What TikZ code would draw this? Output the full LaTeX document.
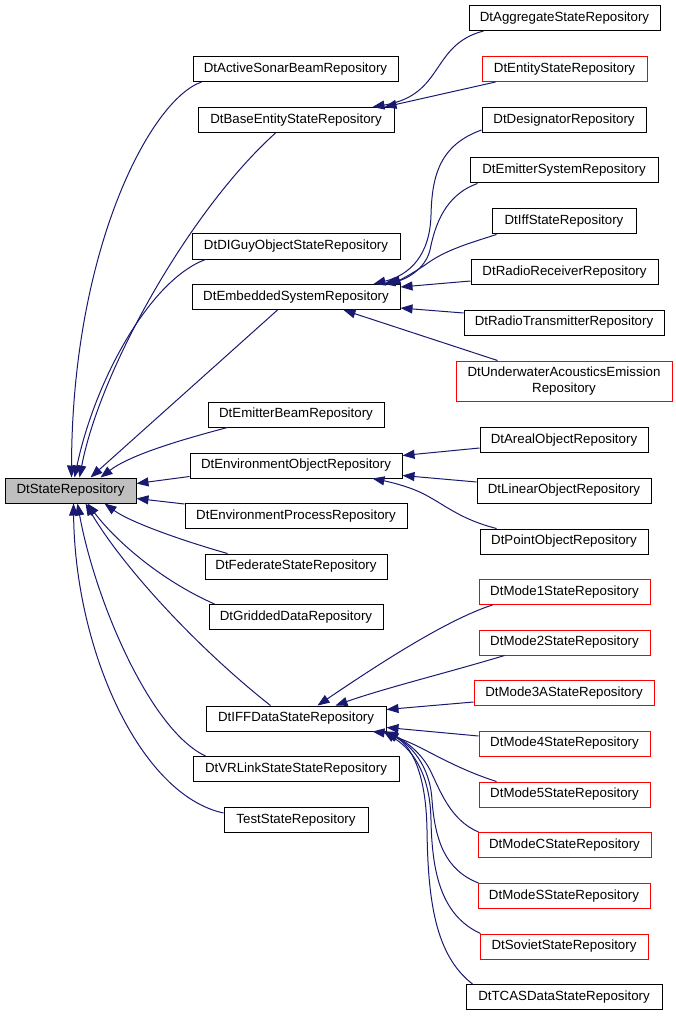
\documentclass[tikz,border=0pt]{standalone}
\usepackage{fontspec}
\setmainfont{Liberation Sans}
\usetikzlibrary{arrows.meta,calc}
\definecolor{edgeblue}{RGB}{25,25,112}
\definecolor{boxgray}{RGB}{191,191,191}
\tikzset{
  box/.style={draw=black, fill=white, line width=1pt, minimum height=25pt, inner sep=0pt,
              font=\fontsize{13.3}{15.5}\selectfont, align=center},
  redbox/.style={box, draw=red},
  rootbox/.style={box, fill=boxgray},
  edge/.style={draw=edgeblue, line width=1pt, -{Triangle[length=12pt,width=9pt]}}
}
\begin{document}
\begin{tikzpicture}[x=1pt,y=-1pt]
\useasboundingbox (0,0) rectangle (675,1016);
% root
\node[rootbox, minimum width=131] (sr) at (70.5,490.5) {DtStateRepository};
% middle column
\node[box, minimum width=205] (sonar)   at (295.5,69)  {DtActiveSonarBeamRepository};
\node[box, minimum width=196] (base)    at (296,120)   {DtBaseEntityStateRepository};
\node[box, minimum width=208] (diguy)   at (296,246.5) {DtDIGuyObjectStateRepository};
\node[box, minimum width=208] (embed)   at (296,297)   {DtEmbeddedSystemRepository};
\node[box, minimum width=176] (ebeam)   at (296,414.5) {DtEmitterBeamRepository};
\node[box, minimum width=212] (envobj)  at (296,465.5) {DtEnvironmentObjectRepository};
\node[box, minimum width=222] (envproc) at (296,516)   {DtEnvironmentProcessRepository};
\node[box, minimum width=182] (fed)     at (296,566.5) {DtFederateStateRepository};
\node[box, minimum width=174] (grid)    at (296,617)   {DtGriddedDataRepository};
\node[box, minimum width=180] (iff)     at (296,718.5) {DtIFFDataStateRepository};
\node[box, minimum width=206] (vrl)     at (296,769)   {DtVRLinkStateStateRepository};
\node[box, minimum width=144] (test)    at (296,820)   {TestStateRepository};
% right column
\node[box,    minimum width=191] (agg)    at (564.5,18)  {DtAggregateStateRepository};
\node[redbox, minimum width=165] (ent)    at (564.5,69)  {DtEntityStateRepository};
\node[box,    minimum width=164] (desig)  at (564,120)   {DtDesignatorRepository};
\node[box,    minimum width=188] (emsys)  at (564,170.5) {DtEmitterSystemRepository};
\node[box,    minimum width=144] (iffst)  at (564,221.5) {DtIffStateRepository};
\node[box,    minimum width=187] (rrx)    at (564.5,272) {DtRadioReceiverRepository};
\node[box,    minimum width=200] (rtx)    at (564,322.5) {DtRadioTransmitterRepository};
\node[redbox, minimum width=216, minimum height=40] (uw) at (564,381) {DtUnderwaterAcousticsEmission\\Repository};
\node[box,    minimum width=168] (areal)  at (564,440)   {DtArealObjectRepository};
\node[box,    minimum width=174] (linear) at (564,490.5) {DtLinearObjectRepository};
\node[box,    minimum width=168] (point)  at (564,541.5) {DtPointObjectRepository};
\node[redbox, minimum width=171] (m1)     at (564.5,592) {DtMode1StateRepository};
\node[redbox, minimum width=171] (m2)     at (564.5,642.5) {DtMode2StateRepository};
\node[redbox, minimum width=180] (m3a)    at (564,693)   {DtMode3AStateRepository};
\node[redbox, minimum width=171] (m4)     at (564.5,743.5) {DtMode4StateRepository};
\node[redbox, minimum width=171] (m5)     at (564.5,794.5) {DtMode5StateRepository};
\node[redbox, minimum width=173] (mc)     at (564.5,845)   {DtModeCStateRepository};
\node[redbox, minimum width=172] (ms)     at (564,896)   {DtModeSStateRepository};
\node[redbox, minimum width=168] (sov)    at (564,946.5) {DtSovietStateRepository};
\node[box,    minimum width=196] (tcas)   at (564,997)   {DtTCASDataStateRepository};

% edges into root
\draw[edge] ($(sonar.south west)+(9,0)$) .. controls (150,100) and (72,250) .. ($(sr.north west)+(67,0)$);
\draw[edge] ($(base.south west)+(78,0)$) .. controls (190,210) and (100,370) .. ($(sr.north west)+(75,0)$);
\draw[edge] ($(diguy.south west)+(14,0)$) .. controls (150,280) and (95,380) .. ($(sr.north west)+(70,0)$);
\draw[edge] ($(embed.south west)+(86,0)$) -- ($(sr.north west)+(86,0)$);
\draw[edge] ($(ebeam.south west)+(20,0)$) .. controls (180,440) and (130,455) .. ($(sr.north west)+(96,0)$);
\draw[edge] ($(envobj.south west)+(0,-2)$) -- ($(sr.east)+(0,-7)$);
\draw[edge] ($(envproc.north west)+(0,1)$) -- ($(sr.east)+(0,8)$);
\draw[edge] ($(fed.north west)+(23,0)$) .. controls (180,540) and (130,522) .. ($(sr.south west)+(100,0)$);
\draw[edge] ($(grid.north west)+(6,0)$) .. controls (160,580) and (115,540) .. ($(sr.south west)+(83,0)$);
\draw[edge] ($(iff.north west)+(65,0)$) .. controls (200,650) and (125,570) .. ($(sr.south west)+(81,0)$);
\draw[edge] ($(vrl.north west)+(13,0)$) .. controls (150,730) and (95,600) .. ($(sr.south west)+(73,0)$);
\draw[edge] ($(test.west)+(0,-7)$) .. controls (140,795) and (75,650) .. ($(sr.south west)+(69,0)$);

% edges into base
\draw[edge] ($(agg.south west)+(15,0)$) .. controls (430,45) and (445,95) .. ($(base.north east)+(-22,0)$);
\draw[edge] ($(ent.south west)+(14,0)$) -- ($(base.north east)+(-10,0)$);

% edges into embed
\draw[edge] ($(desig.west)+(0,10)$) .. controls (440,145) and (432,175) .. (431,215) .. controls (430,255) and (410,275) .. ($(embed.north east)+(-27,0)$);
\draw[edge] ($(emsys.south west)+(8,0)$) .. controls (445,195) and (435,225) .. (430,250) .. controls (425,270) and (405,280) .. ($(embed.north east)+(-17,0)$);
\draw[edge] ($(iffst.south west)+(5,0)$) .. controls (470,243) and (445,250) .. (425,265) .. controls (410,275) and (400,280) .. ($(embed.north east)+(-12,0)$);
\draw[edge] ($(rrx.west)+(0,9)$) -- ($(embed.east)+(0,-10)$);
\draw[edge] ($(rtx.west)+(0,-9.5)$) -- ($(embed.east)+(0,11)$);
\draw[edge] ($(uw.north west)+(42,0)$) -- ($(embed.south west)+(152,0)$);

% edges into envobj
\draw[edge] ($(areal.west)+(0,8)$) -- ($(envobj.east)+(0,-10)$);
\draw[edge] ($(linear.west)+(0,-8.5)$) -- ($(envobj.east)+(0,10)$);
\draw[edge] ($(point.north west)+(17,0)$) .. controls (455,518) and (440,500) .. (415,490) .. controls (400,484) and (385,481) .. ($(envobj.south east)+(-30,0)$);

% edges into iff
\draw[edge] ($(m1.south west)+(14,0)$) .. controls (445,620) and (370,670) .. ($(iff.north west)+(112,0)$);
\draw[edge] ($(m2.south west)+(26,0)$) .. controls (450,672) and (385,688) .. ($(iff.north west)+(130,0)$);
\draw[edge] ($(m3a.west)+(0,9)$) -- ($(iff.east)+(0,-9)$);
\draw[edge] ($(m4.west)+(0,-7.5)$) -- ($(iff.east)+(0,9)$);
\draw[edge] ($(m5.north west)+(18,0)$) .. controls (460,770) and (430,752) .. (415,745) .. controls (400,738) and (385,733) .. ($(iff.south east)+(-14,0)$);
\draw[edge] ($(mc.north west)+(1,0)$) .. controls (450,820) and (440,790) .. (430,770) .. controls (420,750) and (400,738) .. ($(iff.south east)+(-2,0)$);
\draw[edge] ($(ms.north west)+(1,0)$) .. controls (445,870) and (435,840) .. (432,800) .. controls (430,765) and (410,745) .. ($(iff.south east)+(0,0)$);
\draw[edge] ($(sov.north west)+(1,0)$) .. controls (440,915) and (432,870) .. (431,820) .. controls (430,770) and (410,748) .. ($(iff.south east)+(-3,0)$);
\draw[edge] ($(tcas.north west)+(7,0)$) .. controls (435,955) and (428,900) .. (427,830) .. controls (426,770) and (410,745) .. ($(iff.south east)+(-1,0)$);
\end{tikzpicture}
\end{document}
